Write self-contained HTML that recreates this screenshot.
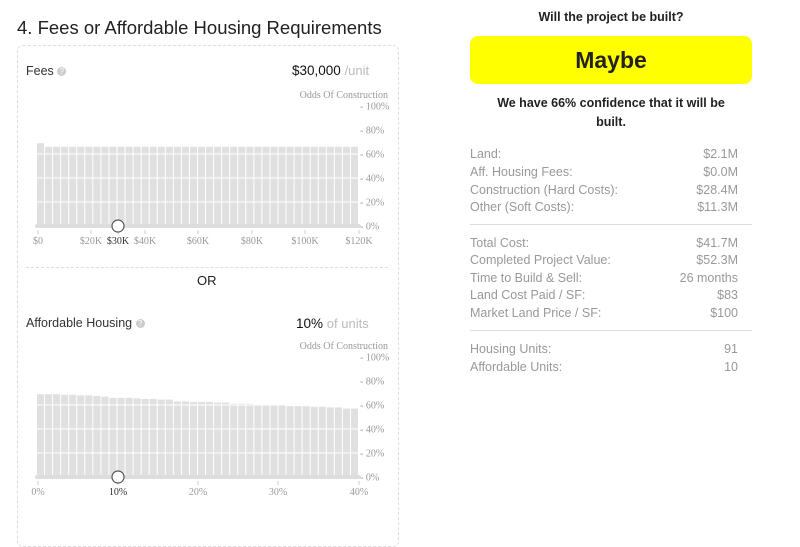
<!DOCTYPE html>
<html><head><meta charset="utf-8"><style>
body{margin:0;width:800px;height:529px;background:#fff;font-family:"Liberation Sans",sans-serif;position:relative;overflow:hidden}
.a{position:absolute;white-space:nowrap}
.r{position:absolute;left:470px;width:268px;font-size:12.5px;color:#999}
.r span{float:right}
</style></head><body>
<div class="a" style="left:17px;top:17px;font-size:18.5px;color:#222">4. Fees or Affordable Housing Requirements</div>
<div class="a" style="left:17px;top:45px;width:380px;height:500px;border:1px dashed #ddd;border-radius:6px"></div>
<div class="a" style="left:26px;top:267px;width:362px;border-top:1px dashed #ddd"></div>
<div class="a" style="left:26px;top:64px;font-size:12.5px;color:#333">Fees <span style="display:inline-block;width:9px;height:9px;border-radius:50%;background:#ccc;color:#fff;font-size:8px;text-align:center;line-height:9px;vertical-align:1px">?</span></div>
<div class="a" style="left:292px;top:63px;font-size:13.5px;color:#111">$30,000 <span style="color:#bbb;font-size:13px">/unit</span></div>
<div class="a" style="left:197px;top:273px;font-size:13px;color:#222">OR</div>
<div class="a" style="left:26px;top:316px;font-size:12.5px;color:#333">Affordable Housing <span style="display:inline-block;width:9px;height:9px;border-radius:50%;background:#ccc;color:#fff;font-size:8px;text-align:center;line-height:9px;vertical-align:1px">?</span></div>
<div class="a" style="left:296px;top:316px;font-size:13.5px;color:#111">10% <span style="color:#bbb;font-size:13px">of units</span></div>
<svg class="a" style="left:0;top:0" width="400" height="529" id="s"></svg>
<div class="a" style="left:470px;top:10px;width:282px;text-align:center;font-size:12.5px;font-weight:bold;color:#222">Will the project be built?</div>
<div class="a" style="left:470px;top:36px;width:282px;height:48px;background:#ffff00;border-radius:8px;text-align:center;line-height:48px;font-size:23px;font-weight:bold;color:#222">Maybe</div>
<div class="a" style="left:486px;top:94px;width:250px;text-align:center;font-size:12.5px;font-weight:bold;color:#222;line-height:19px;white-space:normal">We have 66% confidence that it will be built.</div>
<div class="r" style="top:147px">Land:<span>$2.1M</span></div>
<div class="r" style="top:165px">Aff. Housing Fees:<span>$0.0M</span></div>
<div class="r" style="top:183px">Construction (Hard Costs):<span>$28.4M</span></div>
<div class="r" style="top:200px">Other (Soft Costs):<span>$11.3M</span></div>
<div class="a" style="left:470px;top:224px;width:282px;border-top:1px solid #ddd"></div>
<div class="r" style="top:236px">Total Cost:<span>$41.7M</span></div>
<div class="r" style="top:253px">Completed Project Value:<span>$52.3M</span></div>
<div class="r" style="top:271px">Time to Build &amp; Sell:<span>26 months</span></div>
<div class="r" style="top:288px">Land Cost Paid / SF:<span>$83</span></div>
<div class="r" style="top:306px">Market Land Price / SF:<span>$100</span></div>
<div class="a" style="left:470px;top:330px;width:282px;border-top:1px solid #ddd"></div>
<div class="r" style="top:342px">Housing Units:<span>91</span></div>
<div class="r" style="top:360px">Affordable Units:<span>10</span></div>
<script>
var s=document.getElementById('s'),h='';
function chart(y0,hs,ticks,kx){
 var x0=37,w=322/40;
 h+='<text x="388" y="'+(y0-128)+'" font-size="10" fill="#999" text-anchor="end" font-family="Liberation Serif,serif">Odds Of Construction</text>';
 for(var i=0;i<40;i++){var bh=hs[i]*1.2;h+='<rect x="'+(x0+i*w).toFixed(2)+'" y="'+(y0-bh).toFixed(1)+'" width="'+(w-1).toFixed(2)+'" height="'+bh.toFixed(1)+'" fill="#e0e0e0"/>';}
 for(var p=20;p<=60;p+=20)h+='<line x1="37" x2="359" y1="'+(y0-p*1.2)+'" y2="'+(y0-p*1.2)+'" stroke="#fff"/>';
 for(var p=0;p<=100;p+=20){var y=y0-p*1.2;h+='<text x="360" y="'+(y+3.5)+'" font-size="10" fill="#999" font-family="Liberation Serif,serif">- '+p+'%</text>';}
 h+='<line x1="37" x2="359" y1="'+y0+'" y2="'+y0+'" stroke="#ddd" stroke-width="4" stroke-linecap="round"/>';
 ticks.forEach(function(t){h+='<line x1="'+t[0]+'" x2="'+t[0]+'" y1="'+(y0+4)+'" y2="'+(y0+8)+'" stroke="#ccc"/><text x="'+t[0]+'" y="'+(y0+18)+'" font-size="10" fill="'+(t[0]==kx?'#333':'#999')+'" text-anchor="middle" font-family="Liberation Serif,serif">'+t[1]+'</text>';});
 h+='<circle cx="'+kx+'" cy="'+y0+'" r="6" fill="#fff" stroke="#555" stroke-width="1.2"/>';
}
var a=[];for(var i=0;i<40;i++)a.push(i==0?69:66);
chart(226,a,[[38,'$0'],[91,'$20K'],[118,'$30K'],[145,'$40K'],[198,'$60K'],[252,'$80K'],[305,'$100K'],[359,'$120K']],118);
var b=[69,69,69,68.5,68.5,68,68,67.5,67,66,66,66,65.5,65,65,64.5,64.5,63,63,62.5,62.5,62.5,62,62,61,61,61,60,60,60,60,59,59,59,58.5,58.5,58,58,57,57];
chart(477,b,[[38,'0%'],[118,'10%'],[198,'20%'],[278,'30%'],[359,'40%']],118);
s.innerHTML=h;
</script>
</body></html>
